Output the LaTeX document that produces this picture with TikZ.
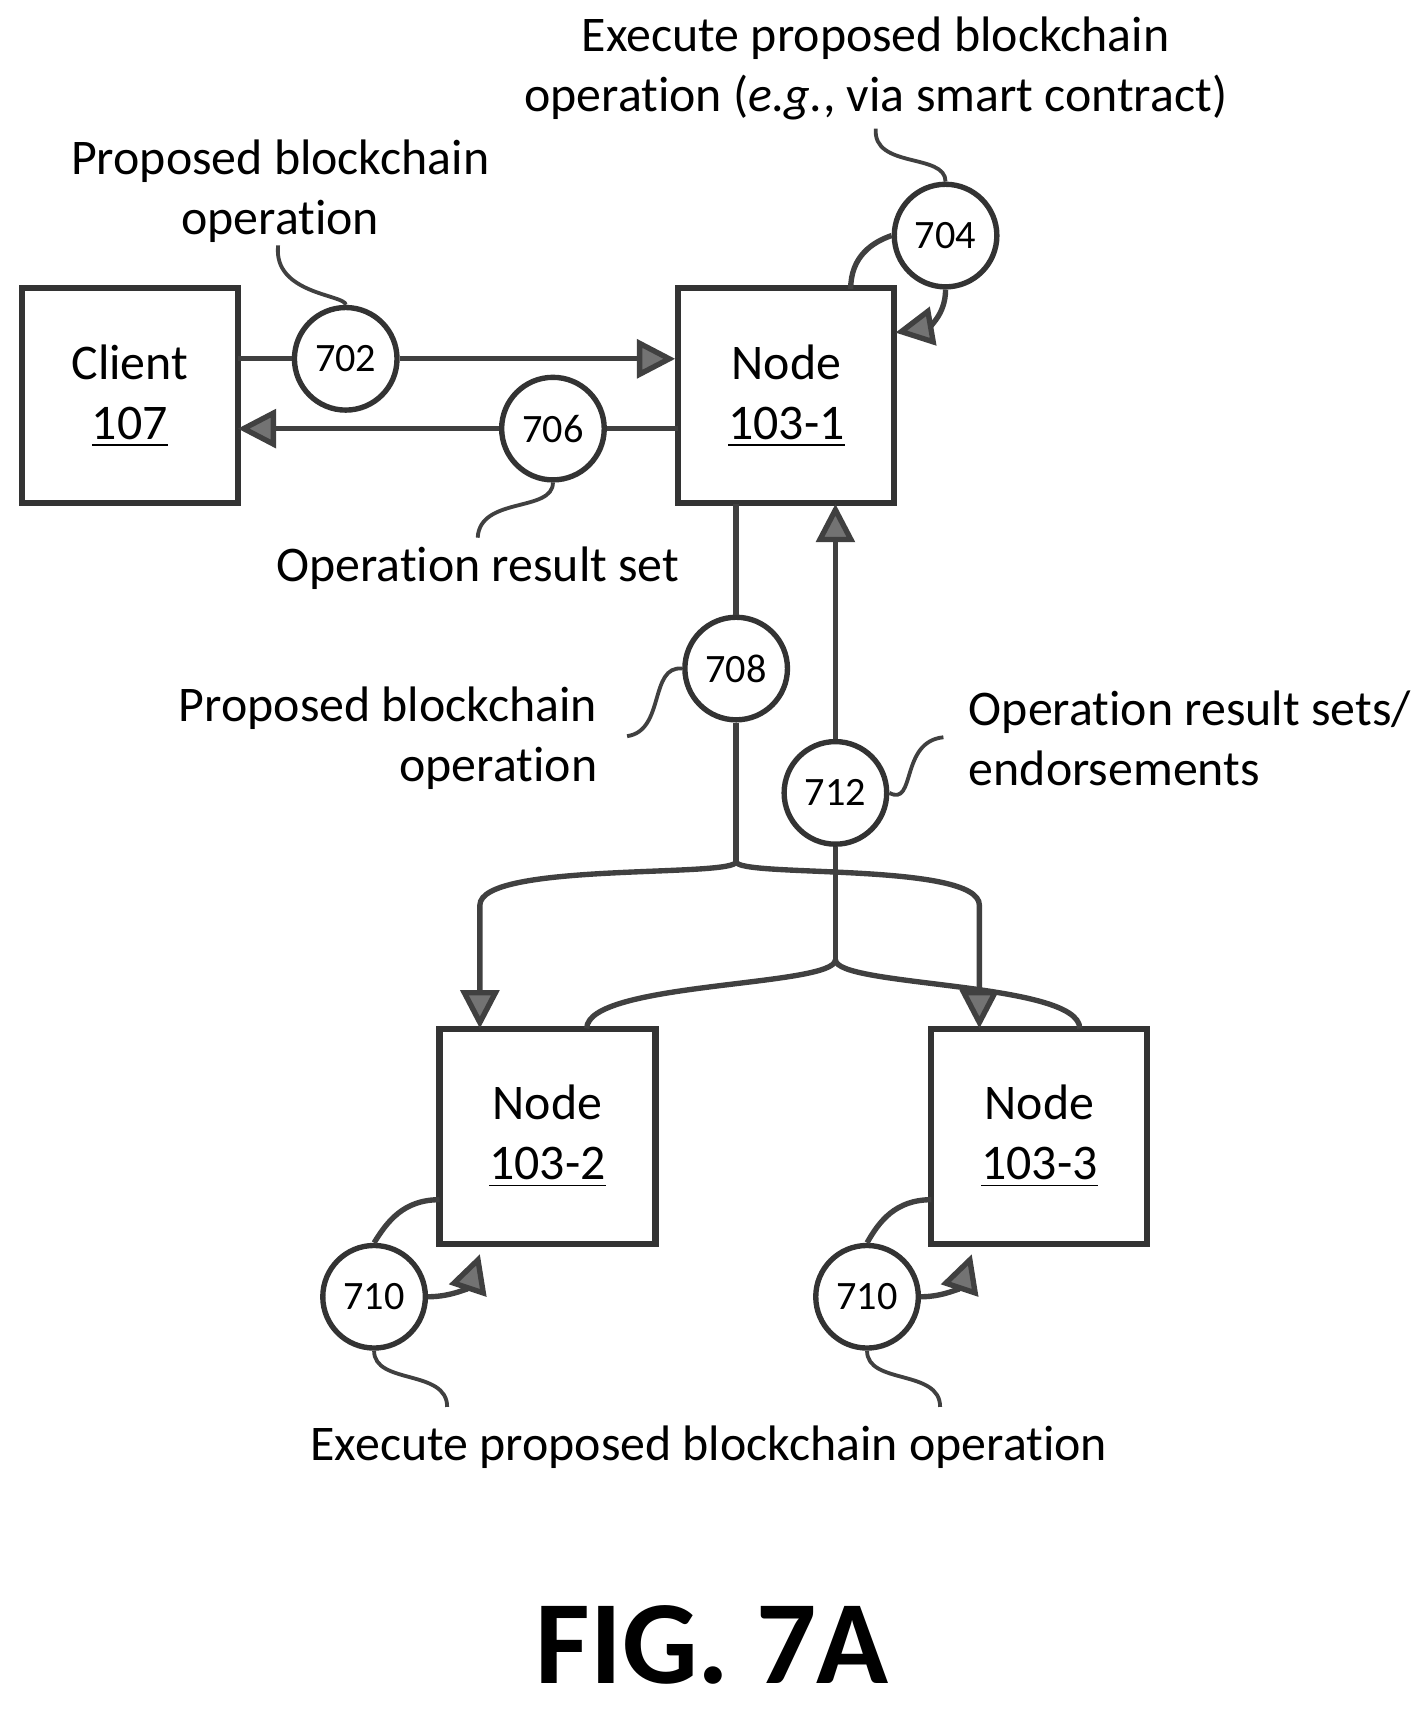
\documentclass[tikz,border=0pt]{standalone}
\usepackage{fontspec}
\setmainfont{Carlito}[Ligatures=NoCommon]
\usetikzlibrary{arrows.meta}
\begin{document}
\begin{tikzpicture}[x=0.01cm,y=-0.01cm,
 box/.style={draw=black!80,line width=1.6pt,minimum width=1.98cm,minimum height=1.97cm,align=center,font=\fontsize{13}{15.6}\selectfont},
 circ/.style={draw=black!80,line width=1.4pt,circle,minimum size=0.94cm,inner sep=0pt,font=\fontsize{10.5}{12}\selectfont},
 ln/.style={draw=black!75,line width=1.4pt},
 arr/.style={ln,-{Triangle[length=10pt,width=10pt,fill=black!55]}},
 lbl/.style={font=\fontsize{13}{15.6}\selectfont,align=center}]
\useasboundingbox (0,0) rectangle (1300,1567);
\node[box] (cl) at (119,363) {Client\\\underline{107}};
\node[box] (n1) at (721,363) {Node\\\underline{103-1}};
\node[box] (n2) at (502,1042) {Node\\\underline{103-2}};
\node[box] (n3) at (953,1042) {Node\\\underline{103-3}};
\node[circ] (c702) at (317,329) {702};
\node[circ] (c706) at (507,393) {706};
\node[circ] (c704) at (867,216) {704};
\node[circ] (c708) at (675,613) {708};
\node[circ] (c712) at (766,727) {712};
\node[circ] (c710a) at (343,1189) {710};
\node[circ] (c710b) at (795,1189) {710};
\coordinate (j1) at (675,790);
\coordinate (j2) at (766,880);
\draw[ln] (218,329) -- (c702.west);
\draw[arr] (c702.east) -- (n1.west |- 0,329);
\draw[ln] (622,393) -- (c706.east);
\draw[arr] (c706.west) -- (218,393);
\draw[ln] (780,265) .. controls (780,235) and (800,222) .. (c704.west);
\draw[arr] (c704.south) .. controls (867,290) and (850,300) .. (821,305);
\draw[ln] (675,462) -- (c708.north);
\draw[ln] (c708.south) -- (j1);
\draw[arr] (j1) .. controls (675,805) and (440,790) .. (440,830) -- (440,943);
\draw[arr] (j1) .. controls (675,805) and (898,790) .. (898,830) -- (898,943);
\draw[ln] (538,943) .. controls (538,900) and (766,905) .. (j2);
\draw[ln] (990,943) .. controls (990,900) and (766,905) .. (j2);
\draw[ln] (j2) -- (c712.south);
\draw[arr] (c712.north) -- (766,462);
\draw[ln] (403,1100) .. controls (370,1100) and (355,1120) .. (c710a.north);
\draw[arr] (c710a.east) .. controls (415,1189) and (430,1180) .. (440,1150);
\draw[ln] (854,1100) .. controls (821,1100) and (806,1120) .. (c710b.north);
\draw[arr] (c710b.east) .. controls (866,1189) and (881,1180) .. (891,1150);
\node[lbl] (t702) at (257,175) {Proposed blockchain\\operation};
\node[lbl] (t704) at (803,63) {Execute proposed blockchain\\operation (\textit{e.g.}, via smart contract)};
\node[lbl] (t706) at (438,521) {Operation result set};
\node[lbl,align=right,anchor=east] (t708) at (560,677) {Proposed blockchain\\operation};
\node[lbl,align=left,anchor=west] (t712) at (876,677) {Operation result sets/\\endorsements};
\node[lbl] (t710) at (650,1327) {Execute proposed blockchain operation};
\node[font=\bfseries\fontsize{31}{38}\selectfont] (fig) at (653,1508) {FIG. 7A};
\draw[ln,line width=1pt] (c702.north) .. controls (317,270) and (250,270) .. (255,225);
\draw[ln,line width=1pt] (c704.north) .. controls (867,140) and (800,155) .. (803,118);
\draw[ln,line width=1pt] (c706.south) .. controls (507,470) and (440,455) .. (438,493);
\draw[ln,line width=1pt] (c708.west) .. controls (595,610) and (610,670) .. (575,675);
\draw[ln,line width=1pt] (c712.east) .. controls (840,740) and (825,680) .. (865,676);
\draw[ln,line width=1pt] (c710a.south) .. controls (343,1270) and (410,1255) .. (410,1290);
\draw[ln,line width=1pt] (c710b.south) .. controls (795,1270) and (862,1255) .. (862,1290);
\end{tikzpicture}
\end{document}
